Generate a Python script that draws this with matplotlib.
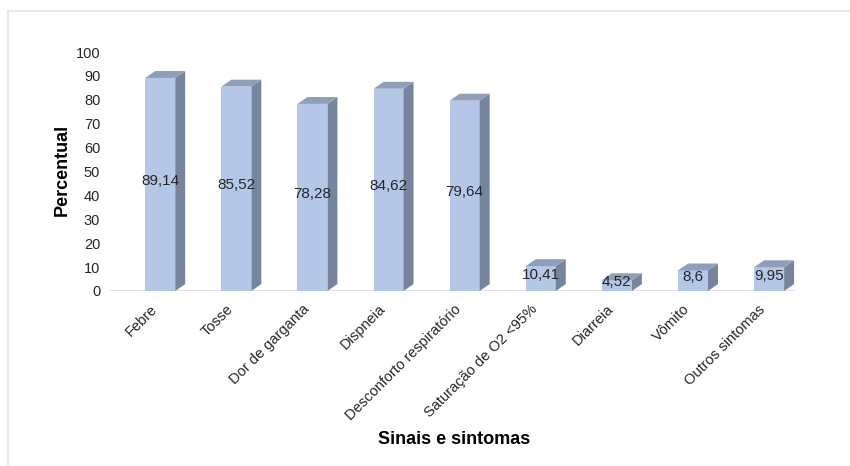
import matplotlib.pyplot as plt
from matplotlib.patches import Polygon
from matplotlib.lines import Line2D
import numpy as np

plt.rcParams['font.family'] = ['Liberation Sans', 'DejaVu Sans']

sintomas = ['Febre', 'Tosse', 'Dor de garganta', 'Dispneia',
            'Desconforto respiratório', 'Saturação de O2 <95%',
            'Diarreia', 'Vômito', 'Outros sintomas']
percentual = [89.14, 85.52, 78.28, 84.62, 79.64, 10.41, 4.52, 8.6, 9.95]
yticks = [0, 10, 20, 30, 40, 50, 60, 70, 80, 90, 100]

cor_frente = '#b4c7e7'
cor_lado = '#76859d'
cor_topo = '#909fb9'

fig = plt.figure(figsize=(8.5, 4.66), dpi=100)
ax = fig.add_axes([110 / 850, 175 / 466, 685 / 850, 239 / 466])

x = np.arange(len(sintomas))
largura = 0.394
# profundidade do efeito 3D (em unidades dos eixos)
dx = 0.131
dy = 2.9

ax.bar(x, percentual, width=largura, color=cor_frente, zorder=3)
for xi, v in zip(x, percentual):
    x0 = xi - largura / 2
    x1 = xi + largura / 2
    lado = Polygon([(x1, 0), (x1 + dx, dy), (x1 + dx, v + dy), (x1, v)],
                   closed=True, facecolor=cor_lado, edgecolor='none',
                   zorder=3, clip_on=False)
    topo = Polygon([(x0, v), (x1, v), (x1 + dx, v + dy), (x0 + dx, v + dy)],
                   closed=True, facecolor=cor_topo, edgecolor='none',
                   zorder=3, clip_on=False)
    ax.add_patch(lado)
    ax.add_patch(topo)
    ax.text(xi, v / 2 + 1.5, f'{v:g}'.replace('.', ','), ha='center',
            va='center', fontsize=11, color='#262626', zorder=4)

ax.set_xlim(-0.66, 8.34)
ax.set_ylim(0, 100)
ax.set_yticks(yticks)
# rótulos inclinados terminam um pouco à esquerda do centro da barra
ax.set_xticks(x - 0.14)
ax.set_xticklabels(sintomas, rotation=45, ha='right', rotation_mode='anchor',
                   fontsize=10.5, color='#262626')
ax.tick_params(axis='y', length=0, pad=7, labelsize=10.5, labelcolor='#262626')
ax.tick_params(axis='x', length=0, pad=8)
for s in ax.spines.values():
    s.set_visible(False)
ax.axhline(0, color='#dde1e7', linewidth=1.5, zorder=2)

fig.text(62 / 850, 1 - 170 / 466, 'Percentual', rotation=90, ha='center',
         va='center', fontsize=13, fontweight='bold')
fig.text(454 / 850, 1 - 440 / 466, 'Sinais e sintomas', ha='center',
         va='center', fontsize=13, fontweight='bold')

# moldura do gráfico (só topo e esquerda)
fig.add_artist(Line2D([8 / 850, 1], [1 - 11 / 466, 1 - 11 / 466],
                      color='#dfe3e8', linewidth=1.2))
fig.add_artist(Line2D([8 / 850, 8 / 850], [0, 1 - 11 / 466],
                      color='#dfe3e8', linewidth=1.2))

fig.savefig('out.png', dpi=100, facecolor='white')
